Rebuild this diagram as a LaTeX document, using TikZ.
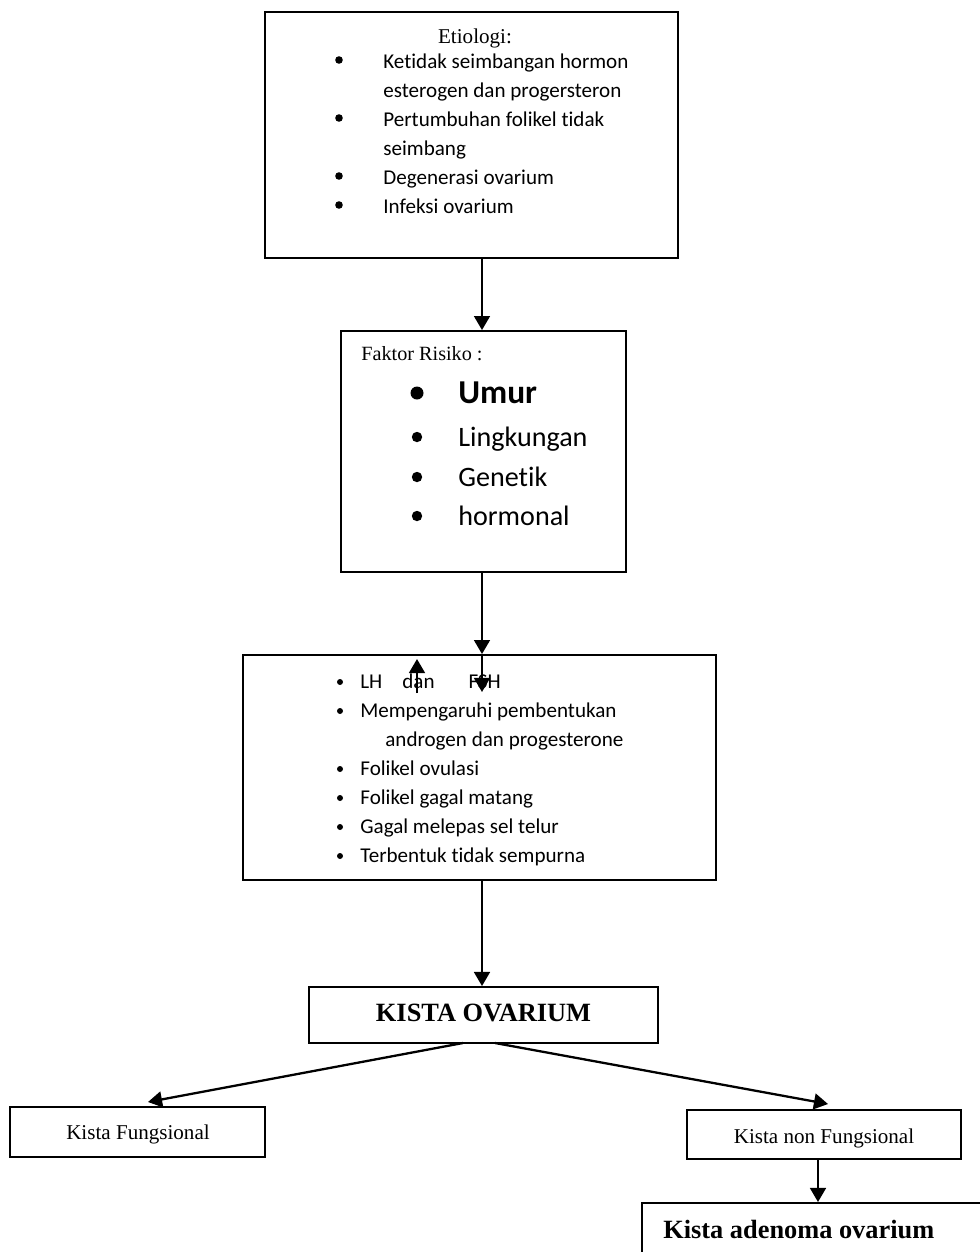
\documentclass[tikz,border=0pt]{standalone}
\usepackage{fontspec}
\setmainfont{Liberation Serif}
\newfontfamily\kalibri[Ligatures={NoCommon,NoContextual},Contextuals=NoAlternate]{Carlito}
\usetikzlibrary{arrows.meta}

\tikzset{
  kotak/.style={draw,line width=1.1pt,inner sep=0pt},
  panah/.style={-{Triangle[width=9pt,length=8pt]},line width=1.3pt},
  baris/.style={anchor=base west,inner sep=0pt},
}

\begin{document}
\begin{tikzpicture}[x=0.02cm,y=-0.02cm]
  \useasboundingbox (0,0) rectangle (980,1252);
  \clip (0,0) rectangle (980,1252);

  % kotak-kotak
  \node[kotak,minimum width=8.26cm,minimum height=4.92cm] (etio) at (471.5,135) {};
  \node[kotak,minimum width=5.7cm,minimum height=4.82cm] (faktor) at (483.5,451.5) {};
  \node[kotak,minimum width=9.46cm,minimum height=4.5cm] (proses) at (479.5,767.5) {};
  \node[kotak,minimum width=6.98cm,minimum height=1.12cm] (kista) at (483.5,1015) {};
  \node[kotak,minimum width=5.1cm,minimum height=1.0cm] (fung) at (137.5,1132) {};
  \node[kotak,minimum width=5.48cm,minimum height=0.98cm] (nonfung) at (824,1134.5) {};
  \node[kotak,anchor=north west,minimum width=8cm,minimum height=2cm] (adenoma) at (641,1202) {};

  % etiologi
  \node[anchor=base,inner sep=0pt,font=\fontsize{12}{14}\selectfont] (etio-judul) at (475,43) {Etiologi:};
  \foreach \y/\teks [count=\i] in {68/Ketidak seimbangan hormon,97/esterogen dan progersteron,
      126/Pertumbuhan folikel tidak,155/seimbang,184/Degenerasi ovarium,213/Infeksi ovarium}
    \node[baris,font=\kalibri\fontsize{12}{14}\selectfont] (etio-\i) at (383,\y) {\teks};
  \foreach \y in {68,126,184,213}
    \fill (339,\y-8) circle (3.8);

  % faktor risiko
  \node[baris,font=\fontsize{11.5}{14}\selectfont] (faktor-judul) at (361,360) {Faktor Risiko :};
  \node[baris,font=\kalibri\bfseries\fontsize{19}{22}\selectfont] (faktor-1) at (458,403) {Umur};
  \foreach \y/\teks [count=\i from 2] in {446/Lingkungan,486/Genetik,525/hormonal}
    \node[baris,font=\kalibri\fontsize{16}{19}\selectfont] (faktor-\i) at (458,\y) {\teks};
  \fill (417,393) circle (6.5);
  \foreach \y in {446,486,525}
    \fill (417,\y-9) circle (5.2);

  % proses
  \node[baris,font=\kalibri\fontsize{12}{14}\selectfont] (proses-1) at (360,688)
    {LH\hspace{11.4pt}dan\hspace{19.3pt}FSH};
  \foreach \y/\teks [count=\i from 2] in {717/Mempengaruhi pembentukan,775/Folikel ovulasi,
      804/Folikel gagal matang,833/Gagal melepas sel telur,862/Terbentuk tidak sempurna}
    \node[baris,font=\kalibri\fontsize{12}{14}\selectfont] (proses-\i) at (360,\y) {\teks};
  \node[baris,font=\kalibri\fontsize{12}{14}\selectfont] (proses-7) at (385,746) {androgen dan progesterone};
  \foreach \y in {688,717,775,804,833,862}
    \fill (340,\y-6) circle (3);

  % teks kista
  \node[anchor=base,inner sep=0pt,font=\bfseries\fontsize{15}{18}\selectfont] (kista-teks) at (483.5,1021) {KISTA OVARIUM};
  \node[anchor=base,inner sep=0pt,font=\fontsize{12}{14}\selectfont] (fung-teks) at (138,1139) {Kista Fungsional};
  \node[anchor=base,inner sep=0pt,font=\fontsize{12}{14}\selectfont] (nonfung-teks) at (824,1143) {Kista non Fungsional};
  \node[baris,font=\bfseries\fontsize{15}{18}\selectfont] (adenoma-teks) at (663,1238) {Kista adenoma ovarium};

  % titik bantu
  \coordinate (naik-a) at (417,693);
  \coordinate (naik-b) at (417,659);
  \coordinate (turun) at (482,692);
  \coordinate (cabang-kiri) at (463,1043);
  \coordinate (cabang-kanan) at (495,1043);
  \coordinate (ujung-kiri) at (148,1102);
  \coordinate (ujung-kanan) at (828,1104);
  \coordinate (ujung-adenoma) at (818,1202);

  % panah
  \draw[panah] (etio.south -| turun) -- (faktor.north -| turun);
  \draw[panah] (faktor.south -| turun) -- (proses.north -| turun);
  \draw[panah] (proses.north -| turun) -- (turun);
  \draw[panah] (naik-a) -- (naik-b);
  \draw[panah] (proses.south -| turun) -- (kista.north -| turun);
  \draw[panah] (cabang-kiri) -- (ujung-kiri);
  \draw[panah] (cabang-kanan) -- (ujung-kanan);
  \draw[panah] (nonfung.south -| ujung-adenoma) -- (ujung-adenoma);
\end{tikzpicture}
\end{document}
